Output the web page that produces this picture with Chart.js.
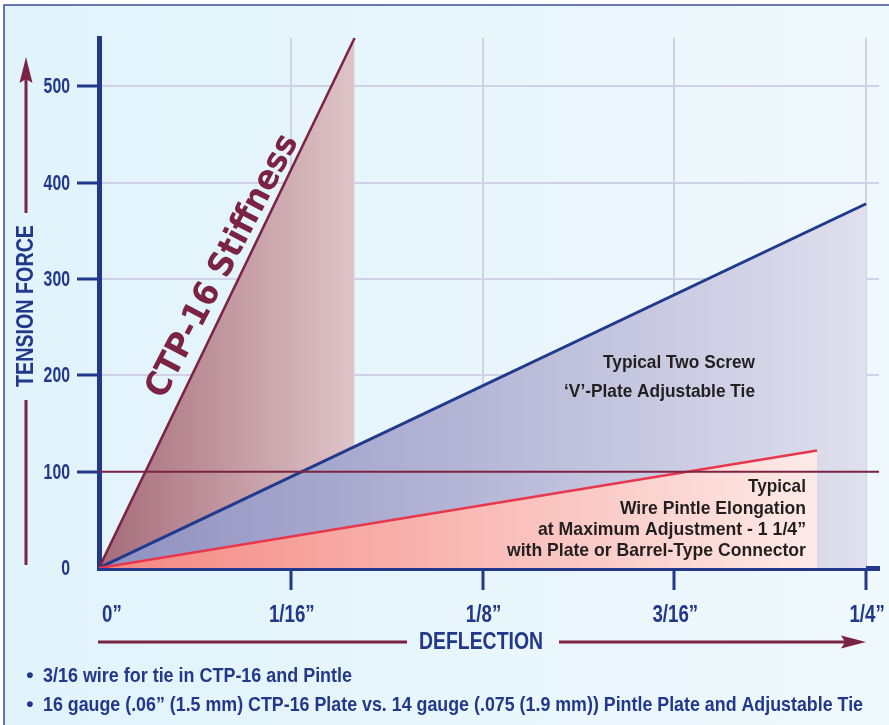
<!DOCTYPE html>
<html lang="en">
<head>
<meta charset="UTF-8">
<title>CTP-16 Stiffness</title>
<script src="https://cdn.jsdelivr.net/npm/chart.js"></script>
<style>
  html, body { margin: 0; padding: 0; background: #fff; }
  #wrap { width: 889px; height: 725px; }
</style>
</head>
<body>
<div id="wrap"><canvas id="myChart" width="889" height="725"></canvas></div>
<script>
// deflection in inches, tension force
const xTickValues = [0, 0.0625, 0.125, 0.1875, 0.25];
const xTickLabels = ['0”', '1/16”', '1/8”', '3/16”', '1/4”'];
const yTickValues = [0, 100, 200, 300, 400, 500];

const ctpX = [0, 0.0833];
const ctpForce = [0, 550];
const vPlateX = [0, 0.25];
const vPlateForce = [0, 378];
const pintleX = [0, 0.234];
const pintleForce = [0, 122];
const refX = [0, 0.2542];
const refForce = [100, 100];

const ctpLabel = 'CTP-16 Stiffness';
const vPlateNote = ['Typical Two Screw', '‘V’-Plate Adjustable Tie'];
const pintleNote = ['Typical', 'Wire Pintle Elongation', 'at Maximum Adjustment - 1 1/4”', 'with Plate or Barrel-Type Connector'];
const footNotes = ['3/16 wire for tie in CTP-16 and Pintle',
    '16 gauge (.06” (1.5 mm) CTP-16 Plate vs. 14 gauge (.075 (1.9 mm)) Pintle Plate and Adjustable Tie'];

const BLUE = '#22388a';
const MAROON = '#7b2343';
const INK = '#231f20';
const GRID = '#d0d1e7';
const HELV = "'Liberation Sans', Arial, sans-serif";

function points(xs, ys) {
    return xs.map((x, i) => ({ x: x, y: ys[i] }));
}

function hGradient(ctx, xs, c0, c1, fallback) {
    const chart = ctx.chart;
    if (!chart.chartArea || !chart.scales.x) return fallback;
    const s = chart.scales.x;
    const g = chart.ctx.createLinearGradient(s.getPixelForValue(xs[0]), 0, s.getPixelForValue(xs[xs.length - 1]), 0);
    g.addColorStop(0, c0);
    g.addColorStop(1, c1);
    return g;
}

// text squeezed horizontally by factor k
function condText(ctx, text, x, y, k, align) {
    ctx.save();
    ctx.translate(x, y);
    ctx.scale(k, 1);
    ctx.textAlign = align;
    ctx.fillText(text, 0, 0);
    ctx.restore();
}

// text squeezed to a given width
function fitText(ctx, text, x, y, w, align) {
    condText(ctx, text, x, y, w / ctx.measureText(text).width, align);
}

const decor = {
    id: 'decor',
    beforeDraw(chart) {
        const ctx = chart.ctx;
        ctx.save();
        ctx.fillStyle = '#fff';
        ctx.fillRect(0, 0, chart.width, chart.height);
        const g = ctx.createLinearGradient(4, 0, chart.width, 0);
        g.addColorStop(0, '#e1f3fb');
        g.addColorStop(1, '#eff8fd');
        ctx.fillStyle = g;
        ctx.fillRect(4, 5, chart.width, chart.height);
        ctx.strokeStyle = '#3a4d99';
        ctx.lineWidth = 1.5;
        ctx.strokeRect(4, 5, chart.width + 10, chart.height + 10);
        ctx.restore();
    },
    afterDraw(chart) {
        const ctx = chart.ctx;
        const a = chart.chartArea;
        const xs = chart.scales.x, ys = chart.scales.y;
        ctx.save();
        ctx.textBaseline = 'middle';

        // tick labels at the scale positions
        ctx.fillStyle = BLUE;
        ctx.font = 'bold 22px ' + HELV;
        ys.ticks.forEach(t => condText(ctx, String(t.value), a.left - 29, ys.getPixelForValue(t.value) + 1, 0.72, 'right'));
        ctx.font = 'bold 24px ' + HELV;
        xs.ticks.forEach((t, i) => {
            const px = xs.getPixelForValue(t.value);
            if (i === 0) condText(ctx, xTickLabels[i], px + 3, a.bottom + 47, 0.78, 'left');
            else condText(ctx, xTickLabels[i], px + 1, a.bottom + 47, 0.78, 'center');
        });

        // CTP-16 label along its line
        ctx.fillStyle = MAROON;
        ctx.font = 'bold 34px "DejaVu Sans", sans-serif';
        ctx.save();
        ctx.translate(xs.getPixelForValue(0.0405), ys.getPixelForValue(313));
        ctx.rotate(-62.5 * Math.PI / 180);
        fitText(ctx, ctpLabel, 0, 0, 292, 'center');
        ctx.restore();

        // notes
        ctx.fillStyle = INK;
        ctx.font = 'bold 19px ' + HELV;
        const vw = [152, 191];
        let nx = xs.getPixelForValue(0.2138), ny = ys.getPixelForValue(213);
        vPlateNote.forEach((t, i) => fitText(ctx, t, nx, ny + i * 29, vw[i], 'right'));
        const pw = [58, 186, 268, 299];
        nx = xs.getPixelForValue(0.2304); ny = ys.getPixelForValue(84);
        pintleNote.forEach((t, i) => fitText(ctx, t, nx, ny + i * 21.3, pw[i], 'right'));

        // axis arrows
        ctx.strokeStyle = MAROON;
        ctx.fillStyle = MAROON;
        ctx.lineWidth = 3;
        ctx.beginPath();
        ctx.moveTo(26, a.bottom - 3); ctx.lineTo(26, 400);
        ctx.moveTo(26, 213); ctx.lineTo(26, 76);
        ctx.moveTo(a.left - 1, 642); ctx.lineTo(407, 642);
        ctx.moveTo(559, 642); ctx.lineTo(847, 642);
        ctx.stroke();
        ctx.beginPath();
        ctx.moveTo(26, 57); ctx.lineTo(32.5, 83); ctx.lineTo(26, 79); ctx.lineTo(19.5, 83);
        ctx.closePath(); ctx.fill();
        ctx.beginPath();
        ctx.moveTo(866, 642); ctx.lineTo(841, 635.5); ctx.lineTo(845, 642); ctx.lineTo(841, 648.5);
        ctx.closePath(); ctx.fill();

        // axis titles
        ctx.fillStyle = BLUE;
        ctx.font = 'bold 23px ' + HELV;
        fitText(ctx, 'DEFLECTION', 481, 643, 124, 'center');
        ctx.save();
        ctx.translate(27, 306);
        ctx.rotate(-Math.PI / 2);
        fitText(ctx, 'TENSION FORCE', 0, 0, 162, 'center');
        ctx.restore();

        // foot notes
        ctx.font = 'bold 21px ' + HELV;
        const fw = [309, 820];
        footNotes.forEach((t, i) => {
            const y = 676 + i * 29;
            ctx.textAlign = 'center';
            ctx.fillText('•', 30, y);
            fitText(ctx, t, 43, y, fw[i], 'left');
        });
        ctx.restore();
    }
};

const data = {
    datasets: [{
        label: 'reference 100',
        data: points(refX, refForce),
        borderColor: MAROON,
        borderWidth: 2,
        fill: false,
        order: 0
    }, {
        label: 'Wire Pintle',
        data: points(pintleX, pintleForce),
        borderColor: '#e8374c',
        borderWidth: 2.5,
        fill: 'origin',
        backgroundColor: ctx => hGradient(ctx, pintleX, '#f48680', '#fdeae7', '#f9b5ae'),
        order: 1
    }, {
        label: 'V-Plate',
        data: points(vPlateX, vPlateForce),
        borderColor: '#213a8c',
        borderWidth: 3,
        fill: 'origin',
        backgroundColor: ctx => hGradient(ctx, vPlateX, '#8e90c0', '#dfdfee', '#b5b6d8'),
        order: 2
    }, {
        label: 'CTP-16',
        data: points(ctpX, ctpForce),
        borderColor: MAROON,
        borderWidth: 2.5,
        fill: 'origin',
        backgroundColor: ctx => hGradient(ctx, ctpX, '#a56b79', '#dec4c8', '#c49aa3'),
        order: 3
    }]
};

const gridOpts = {
    color: c => c.tick && c.tick.value === 0 ? 'transparent' : GRID,
    lineWidth: 2,
    tickLength: 22,
    tickWidth: 3,
    tickColor: c => c.tick && c.tick.value === 0 ? 'transparent' : BLUE
};

const config = {
    type: 'line',
    data: data,
    options: {
        responsive: false,
        animation: false,
        layout: { padding: { left: 0, right: 10, top: 38, bottom: 0 } },
        elements: { point: { radius: 0 }, line: { tension: 0 } },
        plugins: { legend: { display: false }, tooltip: { enabled: false } },
        scales: {
            x: {
                type: 'linear',
                min: 0,
                max: 0.2542,
                afterFit: s => { s.height = 157; },
                afterBuildTicks: s => { s.ticks = xTickValues.map(v => ({ value: v })); },
                border: { color: BLUE, width: 5 },
                grid: gridOpts,
                ticks: { display: false }
            },
            y: {
                min: 0,
                max: 550,
                afterFit: s => { s.width = 99; },
                afterBuildTicks: s => { s.ticks = yTickValues.map(v => ({ value: v })); },
                border: { color: BLUE, width: 5 },
                grid: gridOpts,
                ticks: { display: false }
            }
        }
    },
    plugins: [decor]
};

const myChart = new Chart(document.getElementById('myChart'), config);
</script>
</body>
</html>
